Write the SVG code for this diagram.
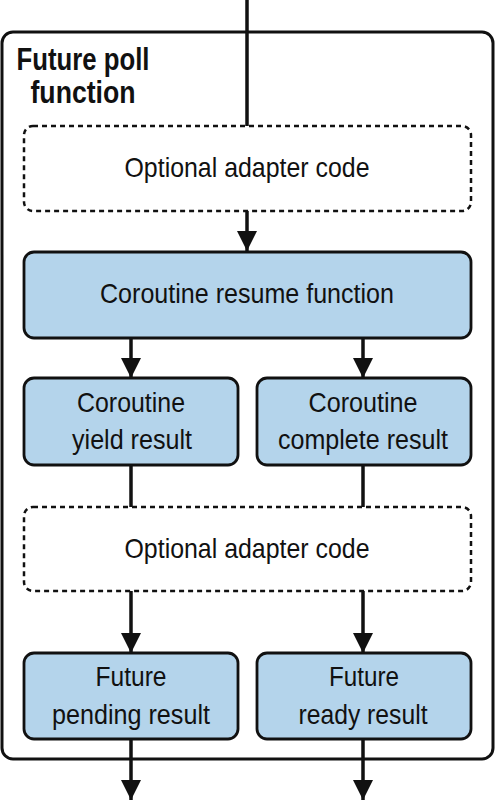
<svg xmlns="http://www.w3.org/2000/svg" width="495" height="800" viewBox="0 0 495 800">
<defs>
<style>
.box{fill:#b4d4eb;stroke:#111;stroke-width:2.8}
.dash{fill:#fff;stroke:#111;stroke-width:2.5;stroke-dasharray:5 4}
.outer{fill:#fff;stroke:#111;stroke-width:3}
.t{font-family:"Liberation Sans",Arial,sans-serif;font-size:27.5px;fill:#111;text-anchor:middle}
.title{font-family:"Liberation Sans",Arial,sans-serif;font-size:31px;font-weight:bold;fill:#111;text-anchor:middle}
.line{stroke:#111;stroke-width:3.5;fill:none}
</style>
<marker id="ah" markerWidth="24" markerHeight="20" refX="24" refY="12" orient="auto" markerUnits="userSpaceOnUse" viewBox="0 0 24 24">
<path d="M0,0 L24,12 L0,24 Z" fill="#111"/>
</marker>
</defs>
<rect width="495" height="800" fill="#fff"/>
<g id="outer">
<rect class="outer" x="2" y="32" width="491" height="727" rx="11"/>
<text class="title" x="83" y="70" textLength="133" lengthAdjust="spacingAndGlyphs">Future poll</text>
<text class="title" x="83" y="103" textLength="105" lengthAdjust="spacingAndGlyphs">function</text>
</g>
<g id="connectors">
<line class="line" x1="247" y1="0" x2="247" y2="126"/>
<line class="line" x1="247" y1="211" x2="247" y2="251" marker-end="url(#ah)"/>
<line class="line" x1="131" y1="338" x2="131" y2="378" marker-end="url(#ah)"/>
<line class="line" x1="363" y1="338" x2="363" y2="378" marker-end="url(#ah)"/>
<line class="line" x1="131" y1="465" x2="131" y2="507"/>
<line class="line" x1="363" y1="465" x2="363" y2="507"/>
<line class="line" x1="131" y1="591" x2="131" y2="653" marker-end="url(#ah)"/>
<line class="line" x1="363" y1="591" x2="363" y2="653" marker-end="url(#ah)"/>
<line class="line" x1="131" y1="739" x2="131" y2="800" marker-end="url(#ah)"/>
<line class="line" x1="363" y1="739" x2="363" y2="800" marker-end="url(#ah)"/>
</g>
<g id="adapter1">
<rect class="dash" x="24" y="126" width="447" height="85" rx="9"/>
<text class="t" x="247" y="177" textLength="245" lengthAdjust="spacingAndGlyphs">Optional adapter code</text>
</g>
<g id="resume">
<rect class="box" x="24" y="252" width="447" height="86" rx="10"/>
<text class="t" x="247" y="303" textLength="294" lengthAdjust="spacingAndGlyphs">Coroutine resume function</text>
</g>
<g id="yield">
<rect class="box" x="24" y="378" width="214" height="87" rx="10"/>
<text class="t" x="131" y="412" textLength="108" lengthAdjust="spacingAndGlyphs">Coroutine</text>
<text class="t" x="132" y="449" textLength="120" lengthAdjust="spacingAndGlyphs">yield result</text>
</g>
<g id="complete">
<rect class="box" x="257" y="378" width="214" height="87" rx="10"/>
<text class="t" x="363" y="412" textLength="109" lengthAdjust="spacingAndGlyphs">Coroutine</text>
<text class="t" x="363" y="449" textLength="170" lengthAdjust="spacingAndGlyphs">complete result</text>
</g>
<g id="adapter2">
<rect class="dash" x="24" y="507" width="447" height="84" rx="9"/>
<text class="t" x="247" y="558" textLength="245" lengthAdjust="spacingAndGlyphs">Optional adapter code</text>
</g>
<g id="pending">
<rect class="box" x="24" y="653" width="214" height="86" rx="10"/>
<text class="t" x="131" y="686" textLength="71" lengthAdjust="spacingAndGlyphs">Future</text>
<text class="t" x="131" y="724" textLength="158" lengthAdjust="spacingAndGlyphs">pending result</text>
</g>
<g id="ready">
<rect class="box" x="257" y="653" width="214" height="86" rx="10"/>
<text class="t" x="364" y="686" textLength="70" lengthAdjust="spacingAndGlyphs">Future</text>
<text class="t" x="363" y="724" textLength="129" lengthAdjust="spacingAndGlyphs">ready result</text>
</g>
</svg>
